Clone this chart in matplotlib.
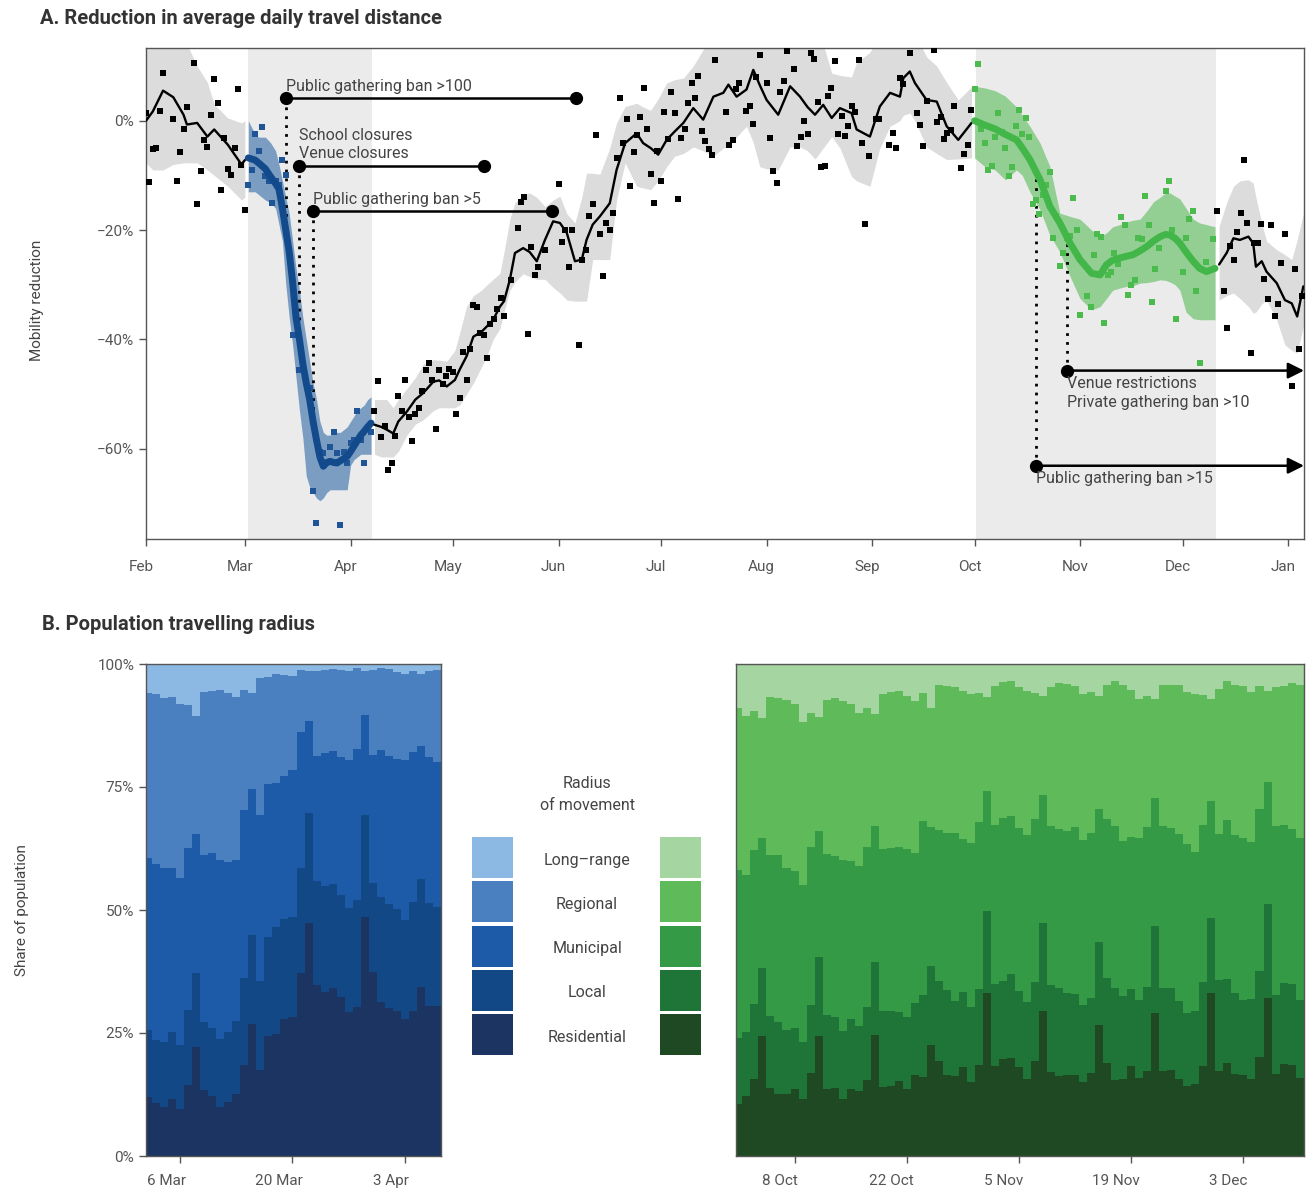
import numpy as np
import pandas as pd
import matplotlib
matplotlib.use('Agg')
import matplotlib.pyplot as plt
from matplotlib.patches import Rectangle
from matplotlib.transforms import ScaledTranslation

plt.rcParams['font.family'] = ['Roboto', 'DejaVu Sans']

W, H = 1306, 1189
BASE = pd.Timestamp('2020-02-01')   # day 0 of panel A

# ---------------- panel A: smoothed line + band (day since 1 Feb, %) ----------------
b1_day = [0, 2, 5, 8, 11, 12, 15, 18, 20, 24, 28, 29]
b1_val = [0, 1.7, 5.5, 4.3, 1.1, -0.7, -0.4, -2.9, -1.6, -4.4, -8.0, -7.2]
b1_lo = [-7.7, -9, -9, -8, -7.7, -7.7, -7.7, -9, -10, -12, -14.5, -14]
b1_hi = [16, 16, 16, 16, 16, 14, 10, 7, 3, 0.5, -0.4, 0]

bl_day = [30, 32, 33, 35, 36.5, 38, 39, 40, 41, 42, 43, 44, 45, 46, 47, 48, 49, 50, 51, 52,
          53, 54, 55, 56, 57, 58, 59, 60, 61, 62, 63, 64, 65, 66]
bl_val = [-6.8, -7.2, -7.7, -8.8, -10.2, -11.5, -12.5, -16, -20, -24, -29.5, -36, -40, -44.5,
          -48, -51, -55, -58.4, -61.5, -63.2, -62.5, -62.3, -62.5, -62.6, -62.2, -61.8, -61.4,
          -60.5, -59.5, -58.5, -57.5, -56.8, -56, -55.3]
bl_lo = [-13, -13, -13.5, -14.5, -15, -16, -19, -22, -30, -36, -41, -47, -53, -58, -65, -67,
         -68, -69, -69.5, -69, -68, -67.5, -67.5, -67.5, -67.5, -67.5, -67.5, -63, -62, -61.5,
         -61, -61, -61, -61]
bl_hi = [0, -2.5, -3, -3, -4, -5.5, -8, -11, -14, -17, -22, -27, -31, -36, -40, -44, -48, -51,
         -55, -57, -57.5, -57.5, -57, -57, -57, -56.5, -56, -55, -54, -53, -52.5, -52, -51, -50.5]

b2_day = [67, 69, 70.6, 72.5, 74, 76.5, 79, 81.3, 84.3, 86, 88.2, 90.6, 92, 94, 96, 98.4, 100,
          101.8, 103.8, 105, 106.7, 108.2, 110.6, 112.5, 114.6, 117, 119.4, 121.4, 123.4, 125.8,
          127.8, 129.2, 131, 133.1, 136, 138, 140.5, 143.9, 145.8, 148, 150.2, 152.7, 155, 157.6,
          160.5, 163.4, 166.4, 169.3, 170.8, 173.2, 176.1, 178.1, 180, 182, 185.4, 188.9, 191.8,
          194, 196.2, 198.6, 201.1, 203.5, 206.9, 208.4, 212.3, 215.2, 218.2, 221.1, 222.1, 224,
          225.5, 228.9, 231.9, 234.8, 238.2, 242.1]
b2_val = [-55.6, -56.0, -56.5, -57.2, -55, -53.2, -51, -49.8, -47.7, -47.5, -48.6, -47.4, -45.5,
          -43.1, -39.5, -38.6, -37.6, -36.4, -34, -33, -29.1, -24.2, -23.3, -24, -25.7, -21.8,
          -18.4, -18.7, -20.5, -25.7, -25.4, -21.8, -19, -17.5, -15.1, -9, -4.1, -2.3, -4.1, -5,
          -6.2, -3.5, -2, -0.4, 2.3, 0.2, 4.4, 5.1, 6.6, 4.4, 5.7, 9.3, 6.5, 3.8, 1.1, 6.3, 4.4,
          2.5, 1.1, 2.9, 0.5, 2.3, 1.4, -1.6, -2.9, 2.6, 5.1, 4.4, 7.8, 9, 6.9, 3.8, 3.5, -1,
          -3.5, -0.4]
b2_lo = [-61, -61.5, -61.5, -61.5, -60.5, -57.5, -55.5, -54.7, -53, -52.5, -52.5, -52.5, -52,
         -50, -48, -45, -43, -40, -38, -35, -31, -29.5, -28, -28.5, -29, -29, -30.5, -31.5,
         -32.8, -33, -33, -33, -25.4, -25.4, -25.4, -14.5, -7.7, -12, -12.3, -12.6, -11, -8.4,
         -6.5, -6, -4.8, -5.5, -6.5, -5, -4.8, -3, -1, -4, -8.4, -8.8, -9, -4.8, -4.8, -5.5, -7,
         -5, -2.9, -5, -10.2, -11, -12, -5, -1, 0, 1, 1.4, 0, -4.8, -6, -7.1, -7, -6.8]
b2_hi = [-51, -51, -51, -52.5, -51, -49, -47, -44.5, -43.7, -43.8, -44, -42, -38.8, -34, -32,
         -31, -30, -29, -27.9, -24, -18, -15, -13.5, -13.2, -14, -15.7, -14.5, -13.8, -17,
         -18.7, -14, -9.6, -9.6, -9.8, -5, -0.4, 2.6, 3.2, 2.5, 1.9, 4, 6.9, 7.5, 7.8, 10, 13,
         16, 16, 16, 16, 16, 16, 16, 16, 16, 16, 16, 16, 16, 14, 8.7, 8.3, 8, 10.7, 12.5, 16,
         16, 16, 16, 16, 16, 11.7, 10, 7, 3.8, 6.2]

gr_day = [243, 246, 249, 252, 255.3, 257, 259.2, 262.2, 265.1, 268, 271, 273.9, 277.3, 279.8,
          281.7, 283.5, 285.6, 287.5, 289.5, 291.5, 293.5, 295.5, 297.4, 299, 300.3, 301.8,
          303.2, 305, 307.1, 309, 311, 313.5]
gr_val = [0, -0.8, -1.5, -2.5, -3.5, -5, -7.1, -10.8, -15.7, -18.7, -22.4, -25.4, -27.9, -28.2,
          -26.3, -25.5, -25.1, -24.8, -24.5, -23.8, -23, -22, -21.2, -20.8, -20.9, -21.5, -22.4,
          -24, -25.7, -27, -27.6, -27]
gr_lo = [-6.8, -8.4, -9, -10.8, -9, -10, -13, -16.3, -21, -24, -28.5, -32.5, -34.6, -34, -32.5,
         -31, -30.6, -30.3, -30.2, -29.7, -29.6, -29.4, -29.1, -29.2, -29.5, -30, -31, -35,
         -36.2, -36.4, -36.4, -36.4]
gr_hi = [6.3, 6, 5.5, 4.5, 2.5, 1, -1, -4.1, -8.4, -16.9, -17.5, -18, -20, -21.2, -20.5, -19.4,
         -19, -18.5, -18.2, -18, -16.5, -14.8, -14, -13.2, -13.2, -13.8, -14.3, -16, -18, -18.7,
         -19, -19.4]

b3_day = [314.7, 316.9, 318.9, 320.8, 323.3, 324.7, 325.5, 327.2, 328.6, 331.6, 334, 336,
          337.6, 339.4]
b3_val = [-26.3, -24.2, -21.5, -21.8, -21.2, -22.4, -26.7, -25.7, -27.6, -29.7, -32.8, -33.4,
          -35.8, -30.3]
b3_lo = [-32.8, -32, -31.5, -32.5, -34, -35.2, -35, -33.5, -32.8, -36.4, -41, -42, -42.5, -37.6]
b3_hi = [-19.3, -15, -12, -11, -10.8, -11.4, -14, -18.7, -22, -23.6, -24.5, -25.4, -21.8, -17]

# ---------------- panel A: daily observations ----------------
pt_black_day = [0, 1, 2, 3, 4, 5, 8, 9, 10, 11, 12, 14, 15, 16, 17, 18, 19, 20, 21, 22, 23, 24,
                25, 26, 27, 28, 29,
                67, 68, 69, 70, 71, 72, 73, 74, 75, 76, 77, 78, 79, 80, 81, 82, 83, 84, 85, 86,
                87, 88, 89, 90, 91, 92, 93, 94, 95, 96, 97, 98, 99, 100, 101, 102, 103, 104, 105,
                107, 109, 110, 111, 112, 113, 114, 115, 117, 121, 122, 123, 124, 125, 127, 128,
                129, 130, 131, 132, 133, 134, 135, 136, 137, 138, 139, 140, 141, 142, 143, 144,
                145, 146, 147, 148, 149, 150, 151, 152, 153, 154, 155, 156, 157, 158, 159, 160,
                161, 162, 163, 164, 165, 166, 167, 170, 171, 172, 173, 174, 176, 177, 178, 179,
                180, 182, 183, 184, 185, 186, 187, 188, 190, 191, 192, 193, 194, 195, 196, 197,
                198, 199, 200, 201, 202, 203, 204, 205, 206, 207, 208, 209, 210, 211, 212, 214,
                215, 218, 219, 220, 221, 222, 224, 226, 227, 228, 229, 231, 232, 233, 234, 235,
                236, 237, 239, 240, 241, 242,
                314, 316, 317, 318, 319, 320, 321, 322, 323, 324, 325, 326, 327, 328, 329, 330,
                331, 332, 333, 334, 336, 337, 338, 339]
pt_black_val = [1.5, -11.2, -5.2, -5.0, 1.8, 8.7, 0.3, -11.1, -5.7, -1.5, 2.5, 10.6, -15.2, -9.2,
                -3.5, -4.8, 1.0, 7.6, 3.3, -12.7, -3.2, -8.8, -9.9, -5.0, 5.8, -8.1, -16.3,
                -53.1, -47.6, -57.9, -55.8, -63.9, -62.6, -57.6, -50.4, -53.1, -47.4, -54.2,
                -58.6, -53.7, -52.6, -49.4, -45.6, -44.3, -47.4, -56.4, -45.6, -48.1, -46.7,
                -45.4, -46.0, -53.6, -50.7, -42.3, -47.4, -41.7, -33.7, -34.0, -38.8, -39.2,
                -43.4, -37.1, -36.2, -34.4, -32.4, -35.7, -29.1, -19.6, -14.9, -14.0, -39.0,
                -23.1, -28.2, -26.7, -23.6, -11.6, -22.2, -19.9, -26.8, -19.9, -41.0, -25.4,
                -23.6, -17.4, -15.2, -2.6, -20.7, -28.4, -18.7, -20.0, -16.9, -6.8, 4.2, -4.1,
                0.3, -12.0, -5.7, -2.6, 0.7, 6.0, -1.6, -9.8, -15.1, -5.6, -11.0, 1.6, -3.3, 5.3,
                1.5, -14.3, -3.2, -1.6, 3.2, 6.9, 4.2, 8.2, -1.8, -3.7, -5.2, -6.3, 11.1, 1.6,
                -4.4, -3.5, 5.8, 6.9, 1.8, 2.7, -0.6, 8.0, 12.0, 6.9, -3.2, -9.2, -11.4, 5.3, 7.3,
                12.7, 9.5, -4.6, -3.0, -0.1, -2.4, 12.4, 11.3, 3.4, -8.5, -8.3, 4.5, 6.0, 10.9,
                -2.4, 0.9, -2.8, -1.0, 2.7, 1.6, 11.1, -4.1, -18.9, -6.5, 0.3, 0.3, -4.4, -2.3,
                -5.0, 7.8, 6.7, 12.4, 1.4, -0.8, -4.6, 3.6, 12.9, -0.2, 0.7, -3.3, -2.3, -1.7,
                2.7, -8.7, -6.1, -4.4, 2.0,
                -16.5, -31.2, -37.9, -22.9, -25.5, -20.4, -16.9, -7.2, -18.7, -42.5, -22.4,
                -22.4, -18.9, -29.0, -32.6, -19.1, -35.7, -33.5, -26.0, -20.7, -48.5, -27.1,
                -41.8, -32.1]
pt_blue_day = [30, 31, 32, 33, 34, 35, 36, 37, 38, 39, 40, 41, 43, 45, 48, 49, 50, 51, 52, 54,
               55, 56, 57, 58, 59, 60, 61, 62, 63, 64, 66]
pt_blue_val = [-11.7, -9.0, -2.4, -5.5, -1.2, -10.2, -11.1, -15.1, -11.1, -11.7, -7.1, -9.9,
               -39.2, -45.6, -48.9, -67.8, -73.6, -60.5, -60.7, -59.6, -57.0, -60.8, -74.0,
               -60.5, -62.6, -59.0, -58.4, -53.1, -58.4, -62.6, -56.9]
pt_green_day = [243, 244, 245, 246, 247, 248, 249, 250, 251, 252, 253, 254, 255, 256, 257, 258,
                259, 260, 261, 262, 263, 264, 265, 266, 267, 268, 269, 270, 271, 272, 273, 274,
                276, 277, 278, 279, 280, 281, 282, 283, 284, 285, 286, 287, 288, 289, 290, 291,
                292, 293, 294, 295, 296, 297, 299, 300, 301, 302, 304, 305, 306, 307, 308, 309,
                311, 313]
pt_green_val = [5.8, 10.4, -1.5, -4.1, -9.1, -8.2, -3.0, 1.5, -2.0, -5.0, -10.1, -8.5, -1.0, 2.0,
                -2.5, 0.5, -3.0, -15.2, -14.5, -17.0, -13.5, -11.7, -9.4, -21.5, -17.5, -26.5,
                -24.2, -21.5, -21.1, -14.1, -20.0, -35.5, -32.0, -34.1, -24.6, -20.7, -21.3,
                -37.0, -28.2, -27.7, -24.2, -26.2, -17.6, -19.1, -31.9, -30.1, -29.1, -21.5,
                -21.6, -13.8, -19.1, -33.2, -27.1, -23.3, -12.9, -11.0, -20.0, -36.3, -27.7,
                -21.5, -18.0, -16.5, -31.2, -44.3, -25.8, -21.6]

# ---------------- panel A: interventions ----------------
ev_text = ['Public gathering ban >100', 'School closures\nVenue closures',
           'Public gathering ban >5', 'Venue restrictions\nPrivate gathering ban >10',
           'Public gathering ban >15']
ev_start = ['2020-03-13', '2020-03-17', '2020-03-21', '2020-10-28', '2020-10-19']
ev_end = ['2020-06-06', '2020-05-10', '2020-05-30', None, None]
ev_level = [4.2, -8.2, -16.6, -45.7, -63.1]
ev_text_below = [False, False, False, True, True]

# ---------------- panel B: cumulative shares (%), one value per day ----------------
spring_start = '2020-03-02'
spring_residential = [11.9, 10.7, 10.0, 11.5, 9.5, 14.4, 22.1, 13.5, 12.1, 10.0, 11.0, 12.6, 18.5,
                      26.8, 17.4, 24.4, 24.8, 27.9, 28.2, 37.2, 47.4, 34.7, 33.3, 34.2, 32.3, 29.3,
                      30.3, 48.6, 37.5, 31.2, 30.0, 29.5, 27.9, 29.5, 34.4, 30.5, 30.4]
spring_local = [25.6, 23.5, 23.2, 25.3, 22.5, 29.6, 37.2, 27.2, 26.0, 23.7, 25.3, 27.4, 36.1, 44.9,
                35.6, 44.5, 46.6, 48.1, 48.6, 58.5, 69.8, 55.9, 54.9, 55.2, 53.1, 50.4, 52.1, 69.3,
                55.4, 52.6, 51.2, 50.3, 47.9, 51.7, 56.3, 51.4, 50.7]
spring_municipal = [60.5, 59.3, 58.6, 58.6, 56.5, 62.6, 65.4, 61.1, 61.6, 60.1, 59.8, 60.2, 70.3,
                    74.5, 69.4, 75.6, 75.9, 77.3, 78.5, 86.1, 88.4, 81.4, 81.9, 82.4, 81.0, 80.4,
                    82.8, 89.6, 81.5, 82.6, 81.4, 80.7, 80.4, 82.1, 83.3, 81.0, 80.0]
spring_regional = [94.2, 94.0, 93.1, 93.3, 91.8, 91.6, 89.5, 94.4, 94.6, 94.8, 94.2, 93.2, 94.7,
                   94.2, 97.2, 97.4, 97.9, 97.8, 97.5, 98.8, 98.6, 98.5, 98.7, 98.9, 98.7, 98.6,
                   99.2, 98.6, 98.8, 99.2, 98.9, 98.4, 98.0, 98.6, 98.0, 98.6, 98.8]

autumn_start = '2020-10-01'
autumn_residential = [10.5, 12.2, 15.7, 24.3, 13.8, 12.7, 12.6, 13.6, 11.5, 16.9, 24.4, 13.6, 13.9,
                      11.6, 13.6, 13.2, 15.5, 24.5, 14.1, 14.3, 15.2, 13.6, 16.4, 16.0, 22.5, 19.3,
                      16.5, 16.2, 18.1, 15.0, 18.5, 33.2, 18.3, 19.7, 19.9, 18.0, 15.7, 19.4, 29.5,
                      17.1, 16.2, 16.4, 16.4, 15.0, 16.9, 26.6, 18.9, 15.4, 15.7, 18.3, 15.9, 17.3,
                      29.1, 17.3, 17.5, 15.7, 14.3, 14.7, 18.3, 33.2, 17.2, 18.9, 16.7, 16.4, 15.7,
                      20.1, 32.2, 16.7, 18.7, 18.5, 15.9]
autumn_local = [23.9, 25.2, 30.8, 38.3, 28.5, 27.3, 25.7, 26.0, 23.2, 30.6, 40.5, 28.6, 28.3, 25.5,
                27.9, 26.5, 30.2, 39.5, 29.5, 29.4, 29.2, 28.3, 31.1, 32.7, 38.6, 35.5, 33.7, 31.6,
                33.4, 30.2, 33.9, 49.8, 35.0, 35.6, 37.0, 33.5, 31.4, 35.3, 47.4, 34.8, 34.1, 33.2,
                33.0, 30.6, 32.2, 43.4, 36.2, 34.2, 32.5, 33.9, 31.8, 34.3, 46.8, 34.1, 34.1, 31.5,
                29.0, 29.4, 35.3, 48.4, 35.8, 36.0, 33.2, 31.8, 32.0, 37.6, 51.2, 32.7, 35.1, 35.0,
                31.8]
autumn_municipal = [58.2, 57.2, 62.1, 64.7, 61.2, 61.2, 58.6, 57.9, 55.1, 62.8, 66.1, 61.4, 61.0,
                    60.2, 60.0, 58.9, 62.8, 67.1, 62.3, 62.6, 62.8, 62.4, 61.6, 68.0, 66.8, 66.3,
                    65.7, 65.6, 64.5, 63.6, 67.8, 74.1, 67.3, 68.7, 69.1, 66.6, 65.2, 68.4, 73.4,
                    67.0, 66.5, 66.1, 66.8, 64.2, 65.6, 70.5, 68.4, 67.0, 64.0, 64.9, 64.7, 66.8,
                    72.8, 67.0, 66.6, 65.4, 63.5, 61.7, 67.3, 72.2, 65.4, 68.2, 65.2, 64.7, 63.8,
                    70.6, 76.1, 67.1, 67.3, 66.5, 64.7]
autumn_regional = [91.1, 89.4, 90.4, 89.0, 93.2, 93.1, 92.6, 91.8, 88.3, 90.1, 89.2, 92.7, 93.0,
                   92.5, 91.8, 90.1, 91.0, 89.9, 93.9, 94.3, 94.6, 93.4, 92.5, 94.1, 91.1, 95.8,
                   95.5, 95.3, 94.6, 93.9, 94.1, 93.2, 95.5, 96.4, 96.6, 95.3, 94.5, 94.1, 93.4,
                   95.3, 96.2, 96.0, 95.5, 93.9, 94.4, 93.4, 95.8, 96.5, 95.8, 94.8, 92.9, 93.4,
                   92.9, 95.7, 95.8, 95.8, 94.3, 93.9, 93.8, 92.9, 95.0, 96.5, 95.7, 95.5, 94.3,
                   95.5, 94.6, 95.3, 95.5, 96.2, 95.8]

categories = ['Long\u2013range', 'Regional', 'Municipal', 'Local', 'Residential']
blue_colors = ['#8bb9e3', '#4a80c0', '#1d5ba8', '#134886', '#1b3461']
green_colors = ['#a5d5a0', '#5fba5a', '#349a45', '#1f7438', '#1e4922']

GREY = '#555555'
TXT = '#444444'


def style_axes(ax):
    for sp in ax.spines.values():
        sp.set_color(GREY)
        sp.set_linewidth(1.0)
    ax.tick_params(colors=GREY, labelcolor=GREY, labelsize=11, length=5, width=1,
                   direction='out')


def shift_labels(ax, dx_px):
    off = ScaledTranslation(dx_px / 100, 0, fig.dpi_scale_trans)
    for lab in ax.get_xticklabels():
        lab.set_transform(lab.get_transform() + off)


fig = plt.figure(figsize=(W / 100, H / 100), dpi=100)

# ================= panel A =================
ax = fig.add_axes([146 / W, 1 - 539 / H, (1304 - 146) / W, (539 - 48) / H])
ax.axvspan(30, 66.3, color='#ebebeb', lw=0, zorder=0)
ax.axvspan(243.4, 313.8, color='#ebebeb', lw=0, zorder=0)

segments = [
    (b1_day, b1_val, b1_lo, b1_hi, '#dcdcdc', 'black', 1.7),
    (bl_day, bl_val, bl_lo, bl_hi, '#7b9dc2', '#124a8c', 5),
    (b2_day, b2_val, b2_lo, b2_hi, '#dcdcdc', 'black', 1.7),
    (gr_day, gr_val, gr_lo, gr_hi, '#93cf93', '#43b649', 5),
    (b3_day, b3_val, b3_lo, b3_hi, '#dcdcdc', 'black', 1.7),
]
for d, v, lo, hi, band_c, line_c, lw in segments:
    ax.fill_between(d, lo, hi, color=band_c, lw=0, zorder=1)
    ax.plot(d, v, color=line_c, lw=lw, zorder=4, solid_capstyle='round',
            solid_joinstyle='round')

ax.scatter(pt_black_day, pt_black_val, marker='s', s=16, color='black', lw=0, zorder=3)
ax.scatter(pt_blue_day, pt_blue_val, marker='s', s=16, color='#1f5597', lw=0, zorder=3)
ax.scatter(pt_green_day, pt_green_val, marker='s', s=16, color='#4cbb4e', lw=0, zorder=3)

XMAX = 339.6
all_day = b1_day + bl_day + b2_day + gr_day + b3_day
all_val = b1_val + bl_val + b2_val + gr_val + b3_val
for txt, s, e, lev, below in zip(ev_text, ev_start, ev_end, ev_level, ev_text_below):
    d0 = (pd.Timestamp(s) - BASE).days
    target = np.interp(d0, all_day, all_val)
    ax.plot([d0, d0], [lev, target], color='black', lw=2, ls=(0, (1, 2.2)), zorder=2)
    if e is None:
        ax.annotate('', xy=(XMAX, lev), xytext=(d0, lev),
                    arrowprops=dict(arrowstyle='-|>', color='black', lw=1.8,
                                    mutation_scale=24, shrinkA=0, shrinkB=0),
                    zorder=5, annotation_clip=False)
    else:
        d1 = (pd.Timestamp(e) - BASE).days
        ax.plot([d0, d1], [lev, lev], color='black', lw=1.8, zorder=5)
        ax.plot([d1], [lev], 'o', color='black', ms=8.5, zorder=5)
    ax.plot([d0], [lev], 'o', color='black', ms=8.5, zorder=5)
    if below:
        ax.annotate(txt, xy=(d0, lev), xytext=(0, -4), textcoords='offset points',
                    ha='left', va='top', fontsize=11.5, color=TXT, linespacing=1.35, zorder=6)
    else:
        ax.annotate(txt, xy=(d0, lev), xytext=(0, 3), textcoords='offset points',
                    ha='left', va='bottom', fontsize=11.5, color=TXT, linespacing=1.3, zorder=6)

months = pd.date_range('2020-02-01', '2021-01-01', freq='MS')
ax.set_xticks([(m - BASE).days for m in months])
ax.set_xticklabels([m.strftime('%b') for m in months])
ax.set_yticks([0, -20, -40, -60])
ax.set_yticklabels(['0%', '\u221220%', '\u221240%', '\u221260%'])
ax.set_xlim(0, XMAX)
ax.set_ylim(-76.5, 13.3)
style_axes(ax)
ax.tick_params(axis='x', pad=10)
shift_labels(ax, -5)

fig.text(40 / W, 1 - 18 / H, 'A. Reduction in average daily travel distance',
         fontsize=14.5, fontweight='bold', color='#333333', va='center', ha='left')
fig.text(37 / W, 1 - 300 / H, 'Mobility reduction', rotation=90, fontsize=11,
         color=TXT, va='center', ha='center')

# ================= panel B =================
fig.text(42 / W, 1 - 624 / H, 'B. Population travelling radius',
         fontsize=14.5, fontweight='bold', color='#333333', va='center', ha='left')
fig.text(22 / W, 1 - 910 / H, 'Share of population', rotation=90, fontsize=11,
         color=TXT, va='center', ha='center')


def stacked(ax, start, res, loc, mun, reg, colors, tick_dates, tick_labels):
    n = len(res)
    edges = np.arange(n + 1) - 0.5
    tops = [np.full(n, 100.0), np.array(reg), np.array(mun), np.array(loc), np.array(res)]
    for top, c in zip(tops, colors):
        ax.stairs(top, edges, baseline=0, fill=True, color=c, lw=0)
    st = pd.Timestamp(start)
    ax.set_xticks([(pd.Timestamp(t) - st).days for t in tick_dates])
    ax.set_xticklabels(tick_labels)
    ax.set_xlim(-0.3, n - 0.45)
    ax.set_ylim(0, 100)
    style_axes(ax)
    ax.tick_params(axis='x', pad=8)


axl = fig.add_axes([146 / W, 1 - 1156 / H, (441 - 146) / W, (1156 - 664) / H])
stacked(axl, spring_start, spring_residential, spring_local, spring_municipal,
        spring_regional, blue_colors, ['2020-03-06', '2020-03-20', '2020-04-03'],
        ['6 Mar', '20 Mar', '3 Apr'])
axl.set_yticks([0, 25, 50, 75, 100])
axl.set_yticklabels(['0%', '25%', '50%', '75%', '100%'])
shift_labels(axl, -14)

axr = fig.add_axes([736 / W, 1 - 1156 / H, (1304 - 736) / W, (1156 - 664) / H])
stacked(axr, autumn_start, autumn_residential, autumn_local, autumn_municipal,
        autumn_regional, green_colors,
        ['2020-10-08', '2020-10-22', '2020-11-05', '2020-11-19', '2020-12-03'],
        ['8 Oct', '22 Oct', '5 Nov', '19 Nov', '3 Dec'])
axr.set_yticks([])
shift_labels(axr, -15)

# legend drawn in pixel space of the figure
lax = fig.add_axes([0, 0, 1, 1])
lax.set_xlim(0, W)
lax.set_ylim(H, 0)
lax.axis('off')
lax.text(587, 783, 'Radius', ha='center', va='center', fontsize=11.5, color=TXT)
lax.text(587, 805, 'of movement', ha='center', va='center', fontsize=11.5, color=TXT)
for i, (cat, cb, cg) in enumerate(zip(categories, blue_colors, green_colors)):
    y0 = 837 + i * 44.3
    lax.add_patch(Rectangle((472, y0), 41, 41, color=cb, lw=0))
    lax.add_patch(Rectangle((660, y0), 41, 41, color=cg, lw=0))
    lax.text(587, y0 + 23, cat, ha='center', va='center', fontsize=11.5, color=TXT)

fig.savefig('out.png', dpi=100)
